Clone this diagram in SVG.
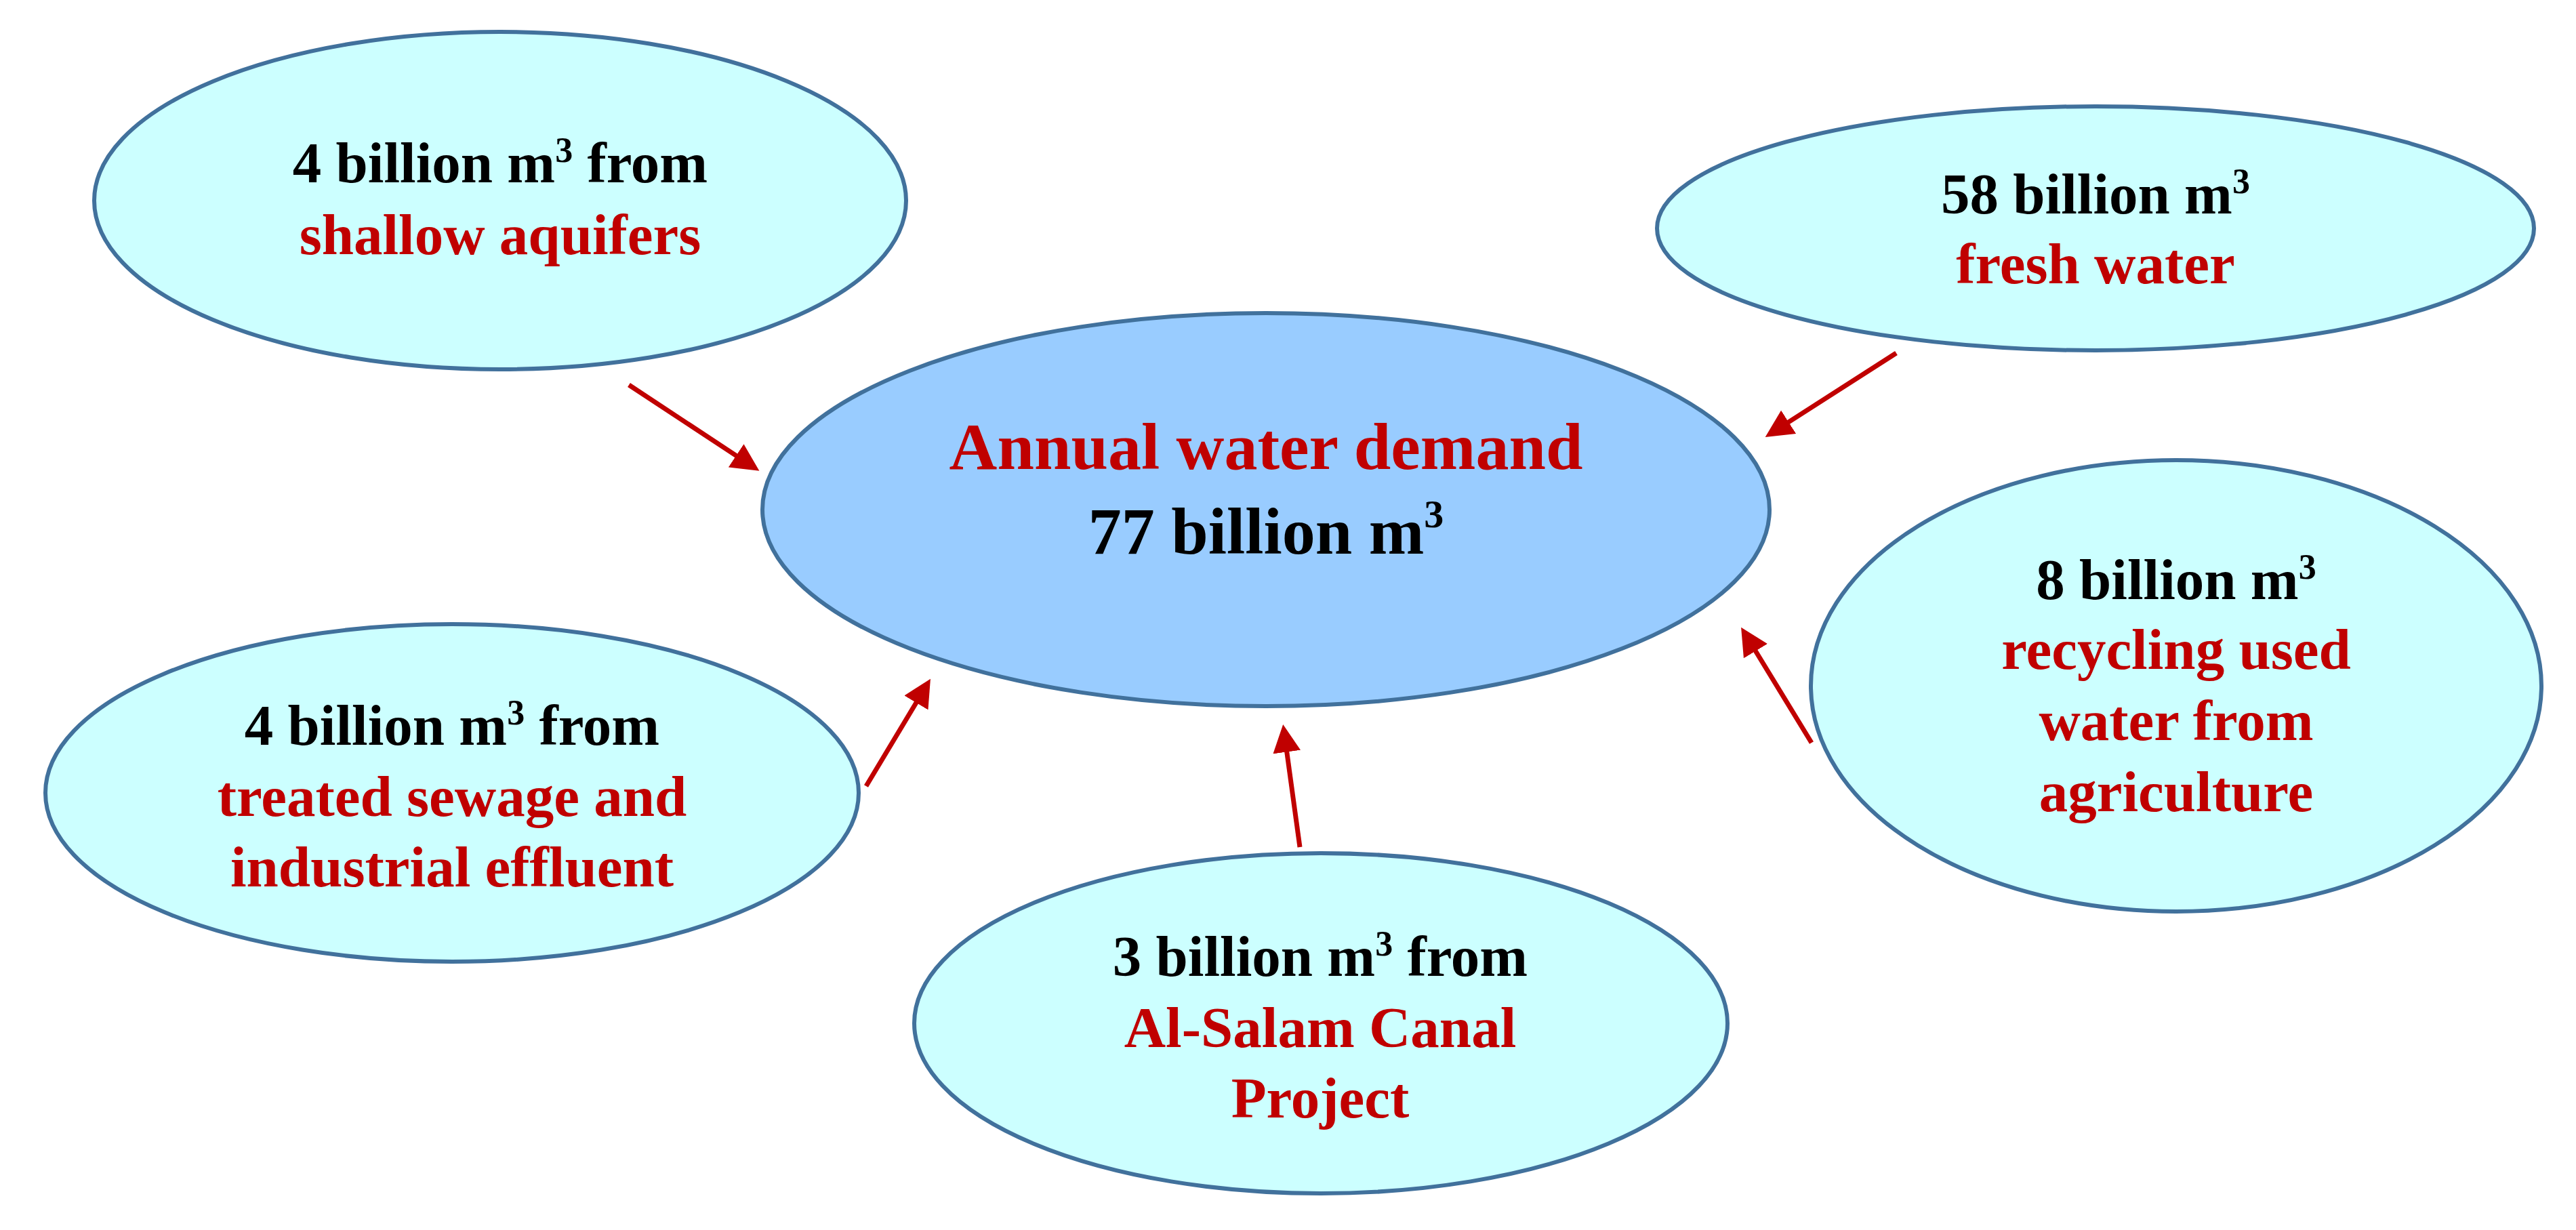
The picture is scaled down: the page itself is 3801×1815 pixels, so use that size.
<svg xmlns="http://www.w3.org/2000/svg" width="3801" height="1815" viewBox="0 0 3801 1815">
<style>
.src{fill:#CCFFFF;stroke:#41719C;stroke-width:6}
.main{fill:#99CCFF;stroke:#41719C;stroke-width:6}
text{font-family:"Liberation Serif","Times New Roman",serif;font-weight:bold;text-anchor:middle}
.t{font-size:85px}
.big{font-size:98px}
.k{fill:#000000}
.r{fill:#C00000}
.arr{stroke:#C00000;stroke-width:7;fill:none;marker-end:url(#ah)}
</style>
<defs>
<marker id="ah" viewBox="0 0 41 41" markerWidth="41" markerHeight="41" refX="2" refY="20.5" orient="auto" markerUnits="userSpaceOnUse">
<path d="M0,0 L41,20.5 L0,41 Z" fill="#C00000"/>
</marker>
</defs>
<rect width="3801" height="1815" fill="#FFFFFF"/>
<g id="connectors">
<line class="arr" x1="928" y1="568" x2="1087.8" y2="673.4"/>
<line class="arr" x1="2798" y1="521" x2="2637.5" y2="623.9"/>
<line class="arr" x1="1918" y1="1250" x2="1898.5" y2="1107.6"/>
<line class="arr" x1="2673" y1="1096" x2="2589.4" y2="959"/>
<line class="arr" x1="1278" y1="1160" x2="1352.9" y2="1035.2"/>
</g>
<g id="center">
<ellipse class="main" cx="1868" cy="752" rx="743" ry="290"/>
<text class="big r" x="1868" y="692">Annual water demand</text>
<text class="big k" x="1868" y="817">77 billion m<tspan font-size="58" dy="-39">3</tspan></text>
</g>
<g id="shallow">
<ellipse class="src" cx="738" cy="296" rx="599" ry="249"/>
<text class="t k" x="738" y="269">4 billion m<tspan font-size="52" dy="-30">3</tspan><tspan dy="30"> from</tspan></text>
<text class="t r" x="738" y="375">shallow aquifers</text>
</g>
<g id="fresh">
<ellipse class="src" cx="3092" cy="337" rx="647" ry="180"/>
<text class="t k" x="3092" y="315">58 billion m<tspan font-size="52" dy="-30">3</tspan></text>
<text class="t r" x="3092" y="418">fresh water</text>
</g>
<g id="recycling">
<ellipse class="src" cx="3211" cy="1012" rx="539" ry="333"/>
<text class="t k" x="3211" y="884">8 billion m<tspan font-size="52" dy="-30">3</tspan></text>
<text class="t r" x="3211" y="987">recycling used</text>
<text class="t r" x="3211" y="1092">water from</text>
<text class="t r" x="3211" y="1197">agriculture</text>
</g>
<g id="sewage">
<ellipse class="src" cx="667" cy="1170" rx="600" ry="249"/>
<text class="t k" x="667" y="1099">4 billion m<tspan font-size="52" dy="-30">3</tspan><tspan dy="30"> from</tspan></text>
<text class="t r" x="667" y="1204">treated sewage and</text>
<text class="t r" x="667" y="1308">industrial effluent</text>
</g>
<g id="salam">
<ellipse class="src" cx="1949" cy="1510" rx="600" ry="251"/>
<text class="t k" x="1948" y="1440">3 billion m<tspan font-size="52" dy="-30">3</tspan><tspan dy="30"> from</tspan></text>
<text class="t r" x="1948" y="1545">Al-Salam Canal</text>
<text class="t r" x="1948" y="1649">Project</text>
</g>
</svg>
